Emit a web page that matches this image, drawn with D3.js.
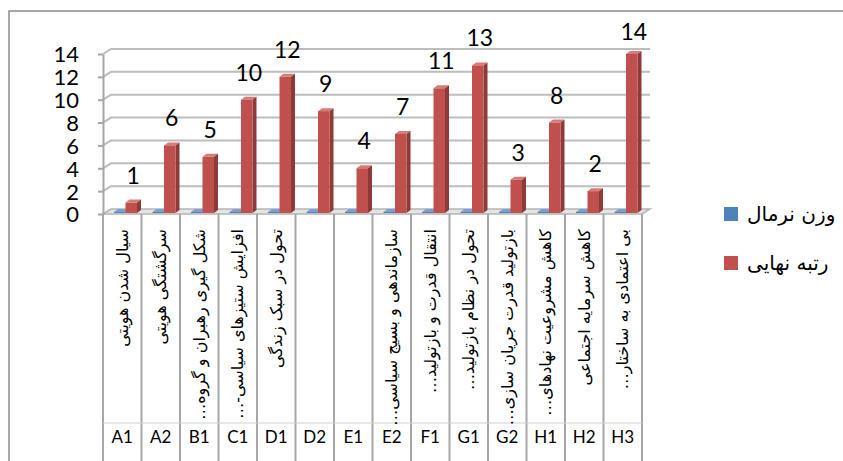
<!DOCTYPE html>
<html><head><meta charset="utf-8">
<script src="https://cdn.jsdelivr.net/npm/d3@7"></script>
<style>body{margin:0;background:#fff}svg{display:block}</style>
</head><body><svg id="c" width="843" height="461"></svg>
<script>
const codes = ["A1","A2","B1","C1","D1","D2","E1","E2","F1","G1","G2","H1","H2","H3"];
const labels = [
  "سیال شدن هویتی",
  "سرگشتگی هویتی",
  "شکل گیری رهبران و گروه…",
  "افزایش ستیزهای سیاسی-…",
  "تحول در سبک زندگی",
  "",
  "",
  "سازماندهی و بسیج سیاسی…",
  "انتقال قدرت و بازتولید…",
  "تحول در نظام بازتولید…",
  "بازتولید قدرت جریان سازی…",
  "کاهش مشروعیت نهادهای…",
  "کاهش سرمایه اجتماعی",
  "بی اعتمادی به ساختار…"
];
const weightValues = [0.12,0.12,0.12,0.12,0.12,0.12,0.12,0.12,0.12,0.12,0.12,0.12,0.12,0.12];
const rankValues = [1,6,5,10,12,9,4,7,11,13,3,8,2,14];
const yTicks = [0,2,4,6,8,10,12,14];
const seriesNames = ["وزن نرمال","رتبه نهایی"];

const colors = {
  w: {front:"#4F81BD", side:"#3A6190", top:"#7C9FD0"},
  r: {front:"#C0504D", side:"#8E3A38", top:"#D47C79"}
};

const svg = d3.select("#c");
const DX = 8, DY = -5;
const x = d3.scaleBand().domain(codes).range([103, 642]);
const xs = d3.scaleBand().domain(["w","r"]).range([11, 34]);
const y = d3.scaleLinear().domain([0, 14]).range([214, 54]);
const x0 = x.range()[0], x1 = x.range()[1];

// outer border
svg.append("rect").attr("x",9).attr("y",11).attr("width",900).attr("height",500)
  .attr("fill","none").attr("stroke","#8c8c8c").attr("stroke-width",1.5);

// floor
svg.append("polygon")
  .attr("points", [[x0,y(0)],[x0+DX,y(0)+DY],[x1+DX,y(0)+DY],[x1,y(0)]].map(p=>p.join(",")).join(" "))
  .attr("fill","#e4e4e4").attr("stroke","#b4b4b4").attr("stroke-width",1.5);

// gridlines (3D)
svg.append("g").selectAll("path").data(yTicks.filter(t=>t>0)).join("path")
  .attr("d", t => `M${x0},${y(t)} L${x0+DX},${y(t)+DY} L${x1+DX},${y(t)+DY}`)
  .attr("fill","none").attr("stroke","#bdbdbd").attr("stroke-width",2);

// axis
const ax = svg.append("g").attr("transform",`translate(${x0},0)`)
  .call(d3.axisLeft(y).tickValues(yTicks).tickSize(5).tickSizeOuter(0).tickPadding(19));
ax.select(".domain").attr("stroke","#a6a6a6").attr("stroke-width",2);
ax.selectAll(".tick line").attr("stroke","#a6a6a6").attr("stroke-width",2);
ax.selectAll(".tick text").attr("font-family","Lato, 'Liberation Sans', sans-serif")
  .attr("font-size",22).attr("fill","#000").attr("dy","0.36em");

// table below
const bounds = codes.map(c=>x(c)).concat([x1]);
svg.append("g").selectAll("line").data(bounds).join("line")
  .attr("x1",d=>d).attr("x2",d=>d).attr("y1",y(0)).attr("y2",470)
  .attr("stroke","#a6a6a6").attr("stroke-width",2);
svg.append("line").attr("x1",x0).attr("x2",x1).attr("y1",423).attr("y2",423)
  .attr("stroke","#d0d0d0").attr("stroke-width",1);

// category text labels (rotated)
svg.append("g").selectAll("text").data(codes).join("text")
  .attr("transform",(c)=>`translate(${x(c)+x.bandwidth()/2},229) rotate(-90)`)
  .attr("direction","rtl").attr("text-anchor","start")
  .attr("dominant-baseline","central")
  .attr("font-family","'DejaVu Sans', sans-serif").attr("font-size",16)
  .attr("fill","#000")
  .text((c,i)=>labels[i]);

// code labels
svg.append("g").selectAll("text").data(codes).join("text")
  .attr("x",c=>x(c)+x.bandwidth()/2).attr("y",443)
  .attr("text-anchor","middle")
  .attr("font-family","Lato, 'Liberation Sans', sans-serif").attr("font-size",17)
  .attr("fill","#000").text(c=>c);

// 3D bars
const bdx = 4, bdy = -3;
function bar(g, xl, w, yt, yb, col){
  g.append("polygon")
    .attr("points",[[xl,yt],[xl+bdx,yt+bdy],[xl+w+bdx,yt+bdy],[xl+w,yt]].map(p=>p.join(",")).join(" "))
    .attr("fill",col.top);
  g.append("polygon")
    .attr("points",[[xl+w,yt],[xl+w+bdx,yt+bdy],[xl+w+bdx,yb+bdy],[xl+w,yb]].map(p=>p.join(",")).join(" "))
    .attr("fill",col.side);
  g.append("rect").attr("x",xl).attr("y",yt).attr("width",w).attr("height",Math.max(0,yb-yt))
    .attr("fill",col.front);
}
const bars = svg.append("g");
codes.forEach((c,i)=>{
  const base = y(0)-1;
  bar(bars, x(c)+xs("w"), xs.bandwidth(), Math.min(y(weightValues[i]), base-1), base, colors.w);
  bar(bars, x(c)+xs("r"), xs.bandwidth(), y(rankValues[i]), base, colors.r);
});

// data labels
svg.append("g").selectAll("text").data(codes).join("text")
  .attr("x",c=>x(c)+xs("r")+xs.bandwidth()/2+2)
  .attr("y",(c,i)=>Math.max(y(rankValues[i])-19, 40))
  .attr("text-anchor","middle")
  .attr("font-family","Lato, 'Liberation Sans', sans-serif").attr("font-size",23)
  .attr("fill","#000").text((c,i)=>rankValues[i]);

// legend
const lg = svg.append("g");
[["w",207,221],["r",256,270]].forEach(([k,ry,ty],i)=>{
  lg.append("rect").attr("x",724).attr("y",ry).attr("width",14).attr("height",14).attr("fill",colors[k].front);
  lg.append("text").attr("x",747).attr("y",ty)
    .attr("font-family","'DejaVu Sans', sans-serif").attr("font-size",20)
    .attr("fill","#000").text(seriesNames[i]);
});
</script></body></html>
